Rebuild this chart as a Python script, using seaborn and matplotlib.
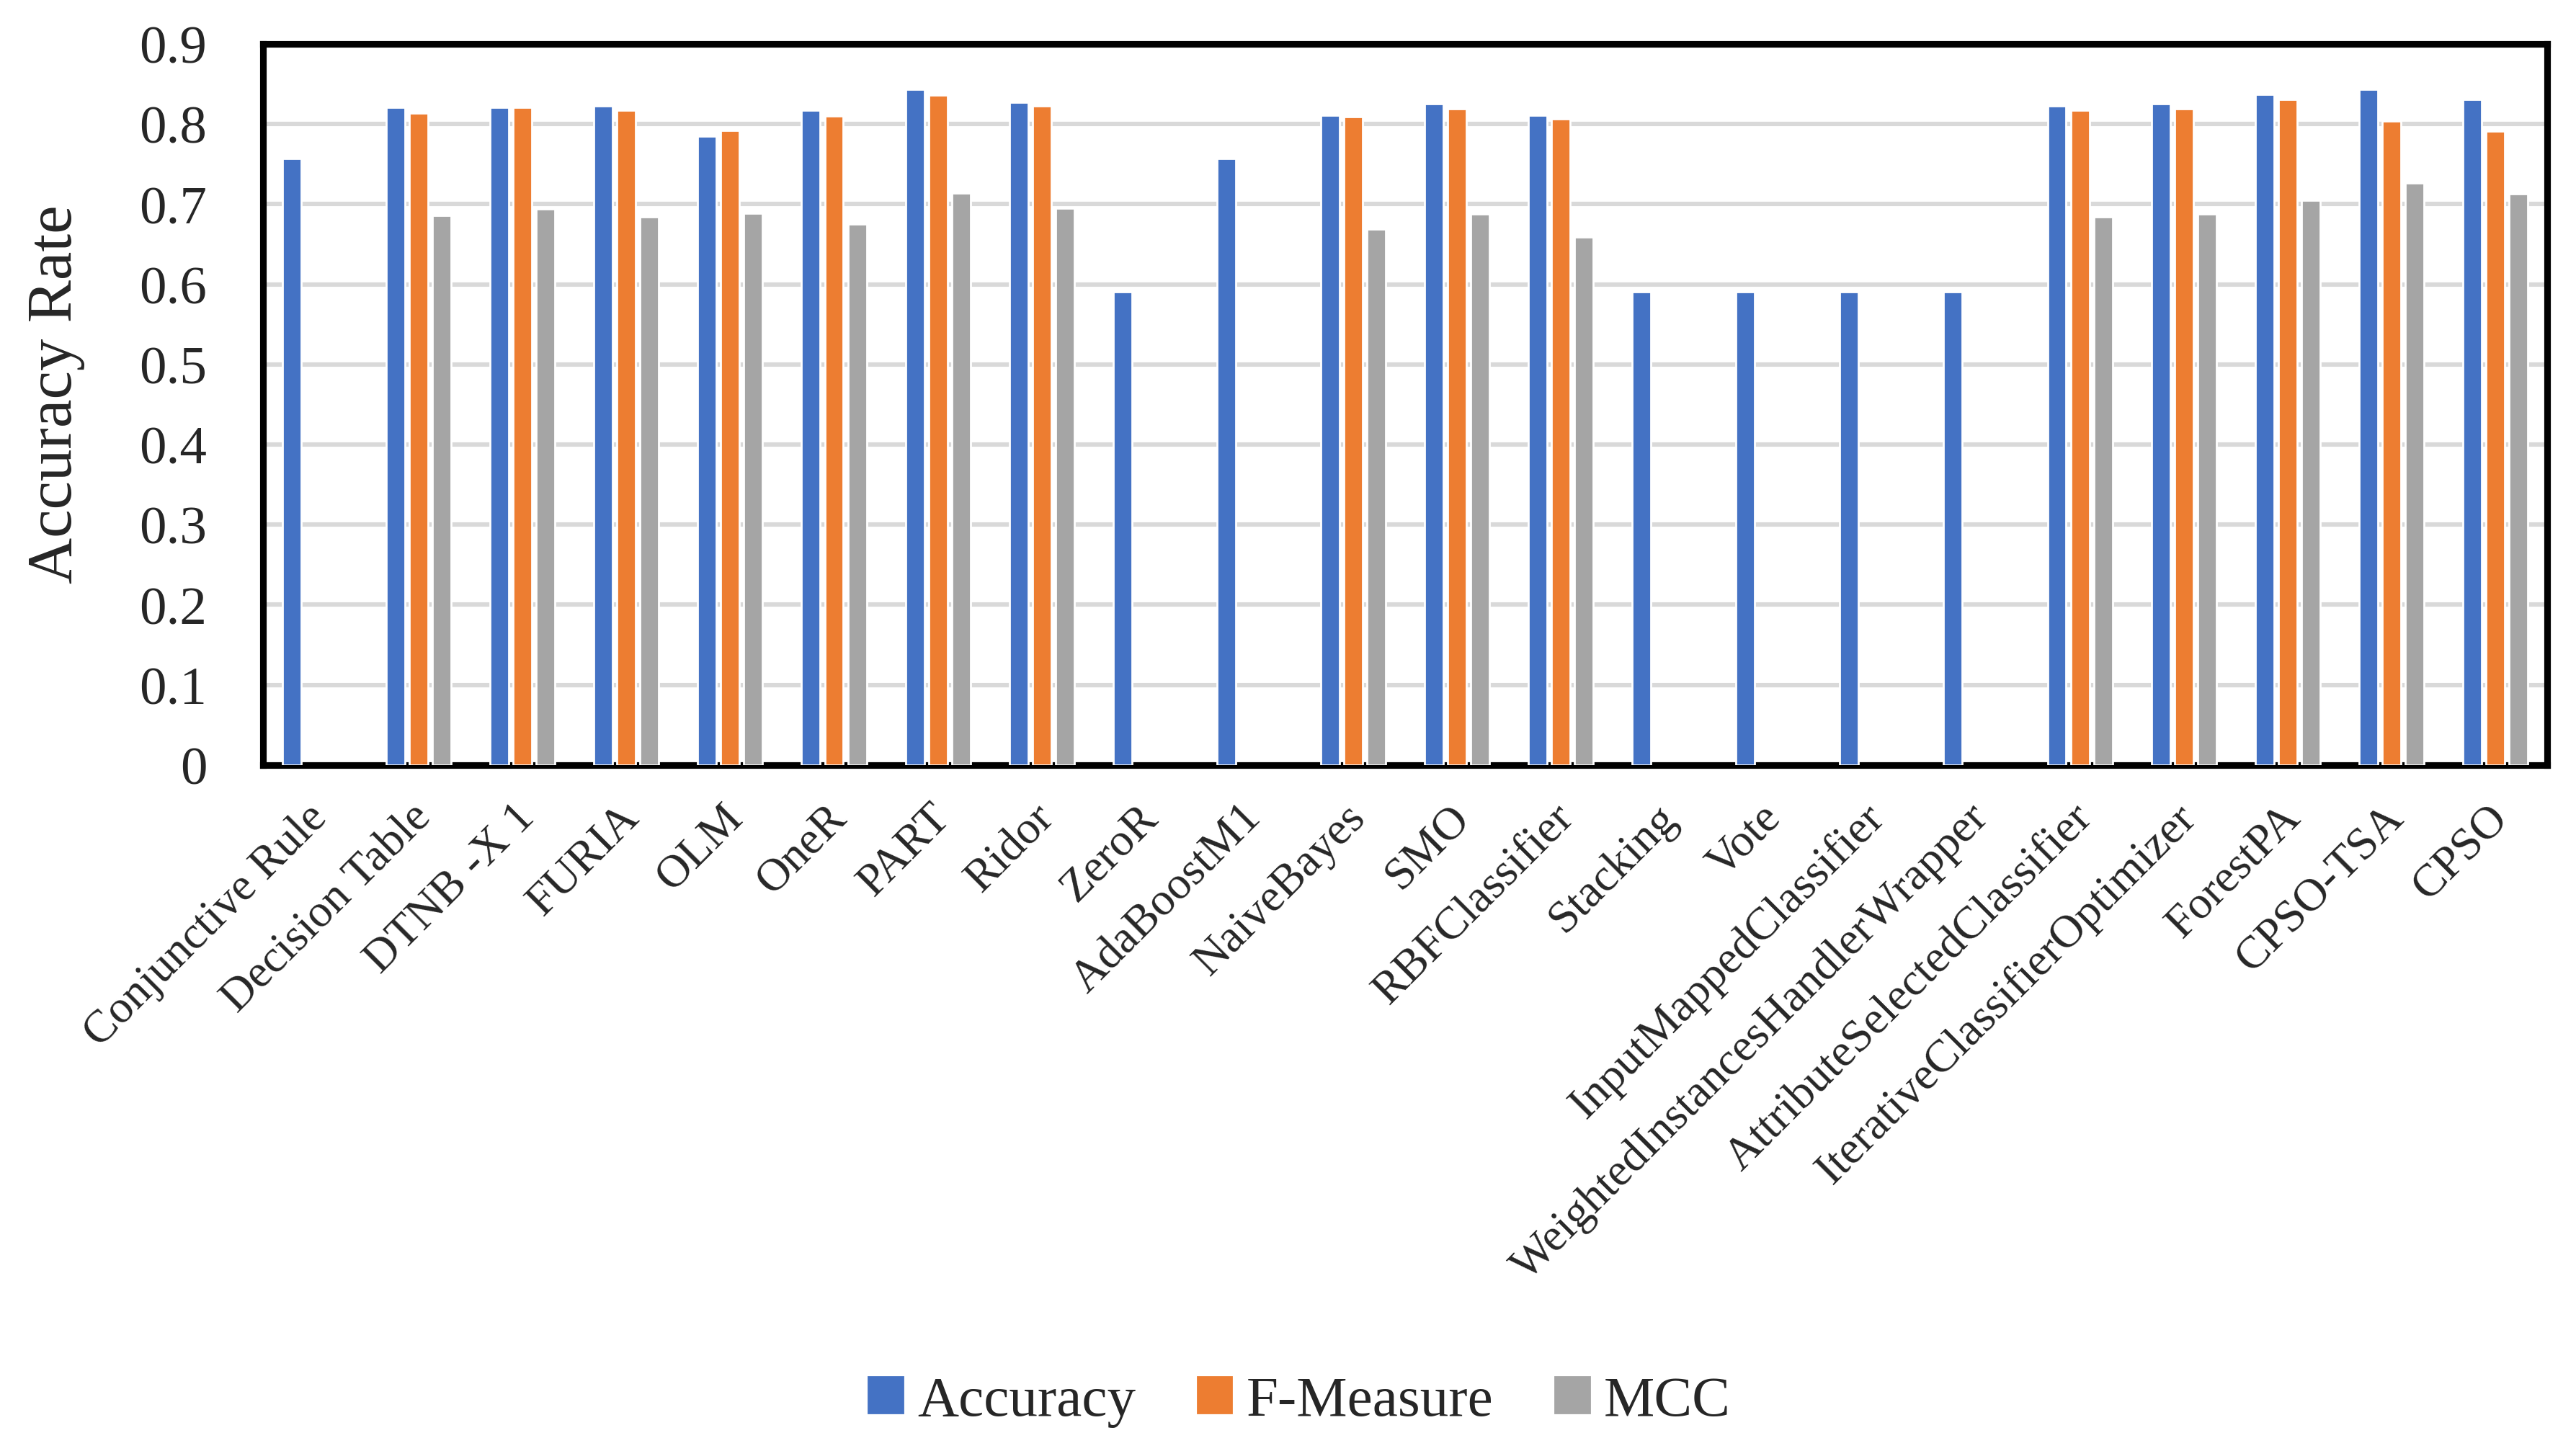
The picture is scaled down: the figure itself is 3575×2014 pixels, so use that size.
import numpy as np
import pandas as pd
import matplotlib
matplotlib.use('Agg')
import matplotlib.pyplot as plt
import matplotlib.transforms as mtransforms
import seaborn as sns

# Values
classifiers = ['Conjunctive Rule', 'Decision Table', 'DTNB -X 1', 'FURIA', 'OLM', 'OneR', 'PART',
               'Ridor', 'ZeroR', 'AdaBoostM1', 'NaiveBayes', 'SMO', 'RBFClassifier', 'Stacking',
               'Vote', 'InputMappedClassifier', 'WeightedInstancesHandlerWrapper',
               'AttributeSelectedClassifier', 'IterativeClassifierOptimizer', 'ForestPA',
               'CPSO-TSA', 'CPSO']
accuracy = [0.757, 0.821, 0.821, 0.823, 0.785, 0.817, 0.843, 0.827, 0.591, 0.757, 0.811,
            0.825, 0.811, 0.591, 0.591, 0.591, 0.591, 0.823, 0.825, 0.837, 0.843, 0.831]
f_measure = [np.nan, 0.814, 0.821, 0.817, 0.792, 0.810, 0.836, 0.823, np.nan, np.nan, 0.809,
             0.819, 0.806, np.nan, np.nan, np.nan, np.nan, 0.817, 0.819, 0.831, 0.804, 0.791]
mcc = [np.nan, 0.686, 0.694, 0.684, 0.689, 0.675, 0.714, 0.695, np.nan, np.nan, 0.669,
       0.688, 0.659, np.nan, np.nan, np.nan, np.nan, 0.684, 0.688, 0.705, 0.726, 0.713]
metrics = ['Accuracy', 'F-Measure', 'MCC']
colors = ['#4472C4', '#ED7D31', '#A5A5A5']

df = pd.DataFrame({'Classifier': classifiers, 'Accuracy': accuracy,
                   'F-Measure': f_measure, 'MCC': mcc})
long_df = df.melt(id_vars='Classifier', var_name='Metric', value_name='Value')

sns.set_style('white')
plt.rcParams['font.family'] = ['Liberation Serif', 'DejaVu Serif']

fig = plt.figure(figsize=(17.875, 10.075), dpi=200)
ax = fig.add_axes([0.1021, 0.4725, 0.8867, 0.4968])

sns.barplot(data=long_df, x='Classifier', y='Value', hue='Metric', order=classifiers,
            hue_order=metrics, palette=colors, width=0.667, gap=0.19,
            saturation=1, errorbar=None, ax=ax, zorder=3)

ax.set_ylim(0, 0.9)
ax.set_xlim(-0.5, len(classifiers) - 0.5)
ax.set_yticks(np.arange(0, 0.91, 0.1))
ax.set_yticklabels(['0'] + [f'{v:.1f}' for v in np.arange(0.1, 0.91, 0.1)], fontsize=27)
ax.yaxis.grid(True, color='#D9D9D9', linewidth=2.2, zorder=0)
ax.set_axisbelow(True)
ax.tick_params(axis='both', length=0)
ax.tick_params(axis='y', pad=28)
ax.set_xticks(range(len(classifiers)))
ax.set_xticklabels(classifiers, rotation=45, ha='right', va='center',
                   rotation_mode='anchor', fontsize=23)
ax.tick_params(axis='x', pad=23)
shift = mtransforms.ScaledTranslation(3 / 72, 0, fig.dpi_scale_trans)
for lbl in ax.get_xticklabels():
    lbl.set_transform(lbl.get_transform() + shift)
ax.set_xlabel('')
ax.set_ylabel('')
fig.text(78 / 3575, 1 - 547 / 2015, 'Accuracy Rate', rotation=90, ha='center', va='center',
         fontsize=32)
for side in ['top', 'right', 'left', 'bottom']:
    ax.spines[side].set_visible(True)
    ax.spines[side].set_color('black')
    ax.spines[side].set_linewidth(3.3)

ax.get_legend().remove()
handles = [plt.Rectangle((0, 0), 1, 1, color=c) for c in colors]
fig.legend(handles, metrics, loc='center', bbox_to_anchor=(0.5045, 0.034), ncol=3,
           frameon=False, fontsize=28.5, handlelength=0.6, handleheight=0.6,
           handletextpad=0.26, columnspacing=1.08, borderpad=0)

fig.savefig('out.png', dpi=200)
